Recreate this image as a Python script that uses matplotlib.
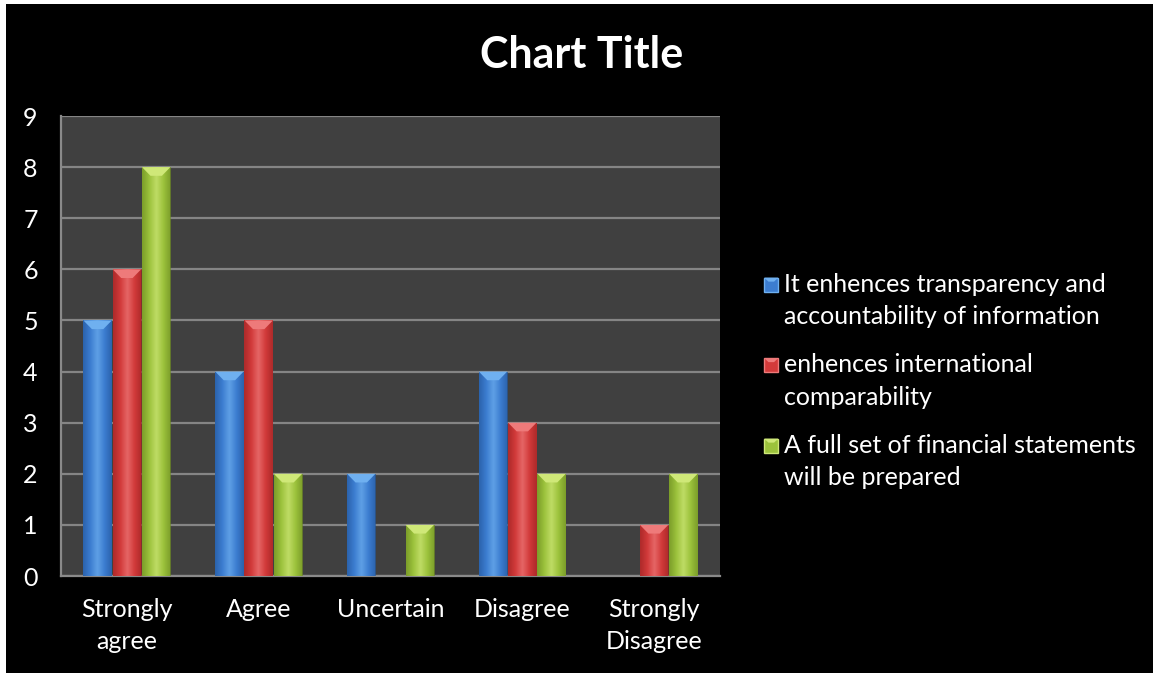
import matplotlib
matplotlib.use("Agg")
import matplotlib.pyplot as plt
import numpy as np
from matplotlib.patches import Rectangle, Polygon
from matplotlib.colors import LinearSegmentedColormap

categories = ["Strongly\nagree", "Agree", "Uncertain", "Disagree", "Strongly\nDisagree"]
series_names = [
    "It enhences transparency and\naccountability of information",
    "enhences international\ncomparability",
    "A full set of financial statements\nwill be prepared",
]
transparency = [5, 4, 2, 4, 0]
comparability = [6, 5, 0, 3, 1]
full_set = [8, 2, 1, 2, 2]
yticks = [0, 1, 2, 3, 4, 5, 6, 7, 8, 9]

base_colors = ["#3c7dd0", "#d23a3a", "#9cc23c"]
light_colors = ["#6fb0f0", "#ee7a7a", "#cfe878"]
dark_colors = ["#24589e", "#9e2424", "#6e8e22"]

plt.rcParams["font.family"] = ["Lato", "DejaVu Sans"]

W, H = 1153, 673
fig = plt.figure(figsize=(W / 100, H / 100), dpi=100, facecolor="white")
fig.patches.append(Rectangle((6 / W, 0), 1 - 6 / W, 1 - 4 / H, transform=fig.transFigure,
                             facecolor="black", edgecolor="none", zorder=-10))

ax = fig.add_axes([61 / W, 1 - 576 / H, (720 - 61) / W, (576 - 116) / H])
ax.set_facecolor("#404040")

x = np.arange(len(categories))
w = 1 / 4.5
all_series = [transparency, comparability, full_set]

ax.set_xlim(-0.5, len(categories) - 0.5)
ax.set_ylim(0, 9)
ax.set_yticks(yticks)
ax.yaxis.grid(True, color="#858585", linewidth=1.6)
ax.set_axisbelow(True)

for i, vals in enumerate(all_series):
    bars = ax.bar(x + (i - 1) * w, vals, width=w * 0.97, color=base_colors[i],
                  edgecolor="none", zorder=3, label=series_names[i])
    cmap = LinearSegmentedColormap.from_list(
        f"c{i}", [dark_colors[i], base_colors[i], light_colors[i], base_colors[i], dark_colors[i]])
    grad = np.linspace(0, 1, 64).reshape(1, -1)
    for b in bars:
        h = b.get_height()
        if h <= 0:
            continue
        bx, bw = b.get_x(), b.get_width()
        im = ax.imshow(grad, cmap=cmap, aspect="auto", extent=(bx, bx + bw, 0, h),
                       zorder=3.5, alpha=0.7, interpolation="bicubic")
        im.set_clip_path(b)
        d = 0.17
        inset = bw * 0.3
        top = Polygon([(bx, h), (bx + bw, h), (bx + bw - inset, h - d), (bx + inset, h - d)],
                      closed=True, facecolor=light_colors[i], edgecolor="none", zorder=4)
        ax.add_patch(top)
ax.set_xlim(-0.5, len(categories) - 0.5)
ax.set_ylim(0, 9)

ax.set_xticks(x)
ax.set_xticklabels(categories, linespacing=1.46)
ax.tick_params(axis="both", colors="white", labelsize=18, length=0)
ax.tick_params(axis="x", pad=16)
for lab in ax.get_yticklabels():
    lab.set_horizontalalignment("center")
ax.yaxis.set_tick_params(pad=22)

for s in ["top", "right"]:
    ax.spines[s].set_visible(False)
for s in ["left", "bottom"]:
    ax.spines[s].set_color("#8a8a8a")
    ax.spines[s].set_linewidth(1.6)

fig.text(582 / W, 1 - 55 / H, "Chart Title", color="white", fontsize=31,
         fontweight="bold", ha="center", va="center")

# legend with invisible handles; visible markers placed on first text line
handles = [Rectangle((0, 0), 1, 1, facecolor="none", edgecolor="none") for _ in base_colors]
leg = fig.legend(handles, series_names, loc="center left",
                 bbox_to_anchor=(748 / W, 1 - 381 / H), frameon=False,
                 fontsize=18, labelcolor="white", handlelength=0.6, handleheight=0.6,
                 handletextpad=0.35, labelspacing=1.0, borderpad=0)
for t in leg.get_texts():
    t.set_linespacing(1.5)

fig.canvas.draw()
renderer = fig.canvas.get_renderer()
sq = 14
for t, c, l in zip(leg.get_texts(), base_colors, light_colors):
    bb = t.get_window_extent(renderer)
    nlines = t.get_text().count("\n") + 1
    line_h = bb.height / nlines
    cy = bb.y1 - line_h / 2 + 2
    x0 = bb.x0 - 6 - sq
    fig.patches.append(Rectangle((x0 / W, (cy - sq / 2) / H), sq / W, sq / H,
                                 transform=fig.transFigure, facecolor=c,
                                 edgecolor=l, linewidth=1.0, zorder=5))
    fig.patches.append(Polygon([(x0 / W, (cy + sq / 2) / H), ((x0 + sq) / W, (cy + sq / 2) / H),
                                ((x0 + sq * 0.7) / W, (cy + sq / 2 - 4) / H),
                                ((x0 + sq * 0.3) / W, (cy + sq / 2 - 4) / H)],
                               closed=True, transform=fig.transFigure, facecolor=l,
                               edgecolor="none", zorder=6))

fig.savefig("out.png", dpi=100, facecolor=fig.get_facecolor())
